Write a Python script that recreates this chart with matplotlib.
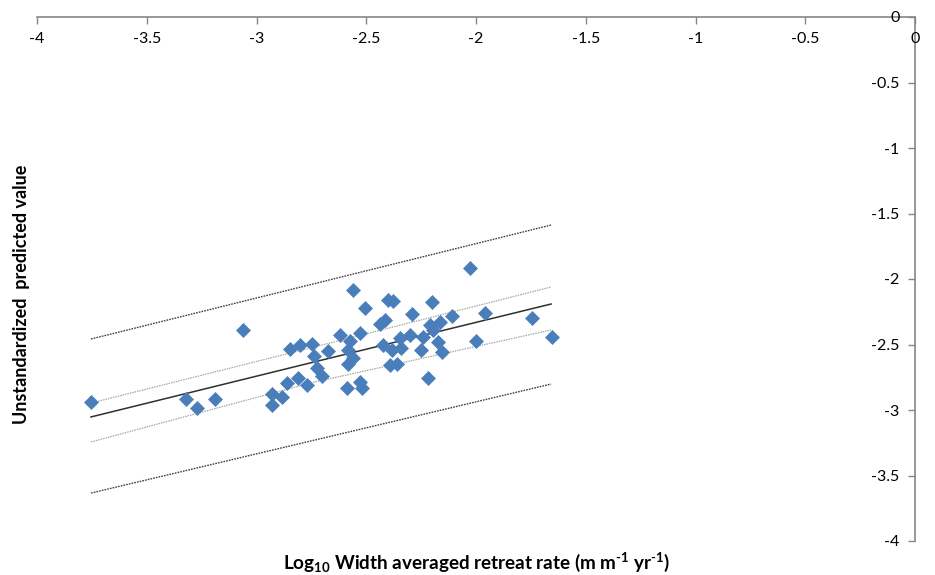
import matplotlib
matplotlib.use("Agg")
import matplotlib.pyplot as plt

# observed data (log10 retreat rate vs unstandardized predicted value)
x_obs = [-3.754, -3.321, -3.271, -3.189, -3.062, -2.929, -2.884, -2.929, -2.861, -2.811,
         -2.770, -2.847, -2.802, -2.747, -2.738, -2.724, -2.702, -2.674, -2.620, -2.574,
         -2.583, -2.560, -2.583, -2.588, -2.528, -2.519, -2.528, -2.560, -2.506, -2.401,
         -2.378, -2.437, -2.415, -2.424, -2.383, -2.342, -2.392, -2.360, -2.292, -2.301,
         -2.241, -2.200, -2.210, -2.164, -2.196, -2.251, -2.173, -2.155, -2.219, -2.109,
         -2.027, -1.959, -2.000, -1.745, -1.654, -2.346]
y_obs = [-2.939, -2.916, -2.985, -2.916, -2.389, -2.878, -2.901, -2.962, -2.794, -2.756,
         -2.809, -2.534, -2.504, -2.496, -2.588, -2.679, -2.740, -2.550, -2.427, -2.473,
         -2.542, -2.603, -2.649, -2.832, -2.786, -2.832, -2.412, -2.084, -2.221, -2.160,
         -2.168, -2.344, -2.313, -2.504, -2.542, -2.527, -2.656, -2.649, -2.267, -2.427,
         -2.443, -2.176, -2.351, -2.328, -2.389, -2.542, -2.481, -2.557, -2.756, -2.282,
         -1.916, -2.260, -2.473, -2.298, -2.443, -2.450]

# regression line and bands
x_fit = [-3.754, -2.756, -1.658]
y_fit = [-3.053, -2.641, -2.191]
y_conf_upper = [-2.947, -2.527, -2.061]
y_conf_lower = [-3.244, -2.794, -2.389]
x_pred = [-3.754, -1.658]
y_pred_upper = [-2.458, -1.588]
y_pred_lower = [-3.634, -2.802]

xticks = [-4, -3.5, -3, -2.5, -2, -1.5, -1, -0.5, 0]
yticks = [0, -0.5, -1, -1.5, -2, -2.5, -3, -3.5, -4]

plt.rcParams['font.family'] = ['Lato', 'DejaVu Sans']
plt.rcParams['mathtext.fontset'] = 'custom'
plt.rcParams['mathtext.rm'] = 'Lato:weight=bold'
plt.rcParams['mathtext.bf'] = 'Lato:weight=bold'
plt.rcParams['mathtext.it'] = 'Lato:weight=bold'

fig = plt.figure(figsize=(9.35, 5.75), dpi=100)
ax = fig.add_axes([37/935, 1 - 541/575, (915-37)/935, (541-17)/575])
ax.set_xlim(-4, 0)
ax.set_ylim(-4, 0)

axis_col = '#868686'
ax.spines['bottom'].set_position(('data', 0))
ax.spines['left'].set_position(('data', 0))
ax.spines['top'].set_visible(False)
ax.spines['right'].set_visible(False)
for s in ('bottom', 'left'):
    ax.spines[s].set_color(axis_col)
    ax.spines[s].set_linewidth(1.2)
    ax.spines[s].set_zorder(1)

ax.set_xticks(xticks)
ax.set_yticks(yticks)
ax.set_xticklabels([f"{t:g}" for t in xticks])
ax.set_yticklabels([f"{t:g}" for t in yticks])
ax.tick_params(axis='both', direction='out', length=5, width=1.0, color=axis_col,
               labelsize=11.5, labelcolor='black', pad=6)

# prediction bands
ax.plot(x_pred, y_pred_upper, color='#404040', linestyle=(0, (1.2, 0.8)), linewidth=1.0, zorder=2)
ax.plot(x_pred, y_pred_lower, color='#404040', linestyle=(0, (1.2, 0.8)), linewidth=1.0, zorder=2)
# confidence bands
ax.plot(x_fit, y_conf_upper, color='#A6A6A6', linestyle=(0, (1.2, 0.8)), linewidth=0.9, zorder=2)
ax.plot(x_fit, y_conf_lower, color='#A6A6A6', linestyle=(0, (1.2, 0.8)), linewidth=0.9, zorder=2)
# regression line
ax.plot(x_fit, y_fit, color='#303030', linewidth=1.1, zorder=2)

ax.plot(x_obs, y_obs, linestyle='none', marker='D', markersize=7.2,
        markerfacecolor='#4A7EBB', markeredgecolor='#4A7EBB', markeredgewidth=0.5, zorder=3)

fig.text(22/935, 1 - 294/575, 'Unstandardized  predicted value', rotation=90,
         ha='center', va='center', fontsize=13, fontweight='bold')
fig.text(477/935, 1 - 562/575,
         r'Log$_{\mathbf{10}}$ Width averaged retreat rate (m m$^{\mathbf{\text{-1}}}$ yr$^{\mathbf{\text{-1}}}$)',
         ha='center', va='center', fontsize=13.6, fontweight='bold')

fig.savefig('out.png', dpi=100)
